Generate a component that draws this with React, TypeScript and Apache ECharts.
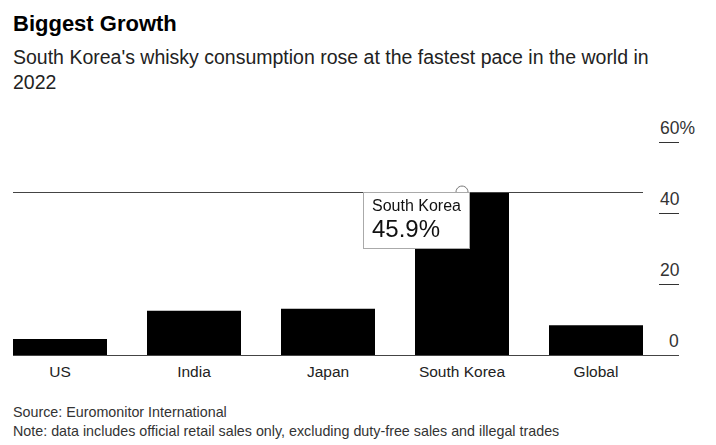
import React, { useEffect, useRef } from "react";
import * as echarts from "echarts";

const categories = ["US", "India", "Japan", "South Korea", "Global"];
const growth = [4.5, 12.5, 13.0, 45.9, 8.4];
const yTicks = [0, 20, 40, 60];
const highlightIndex = 3;

const FONT = "'Liberation Sans', Arial, Helvetica, sans-serif";

export default function App() {
  const ref = useRef<HTMLDivElement>(null);

  useEffect(() => {
    if (!ref.current) return;
    document.body.style.margin = "0";
    const chart = echarts.init(ref.current, null, { renderer: "svg" });
    const hv = growth[highlightIndex];
    chart.setOption({
      animation: false,
      backgroundColor: "#fff",
      textStyle: { fontFamily: FONT },
      title: [
        {
          text: "Biggest Growth",
          left: 13,
          top: 12,
          padding: 0,
          textStyle: { fontFamily: FONT, fontSize: 22, fontWeight: "bold", color: "#000", lineHeight: 22 },
        },
        {
          text: "South Korea's whisky consumption rose at the fastest pace in the world in 2022",
          left: 13,
          top: 44,
          padding: 0,
          textStyle: {
            fontFamily: FONT,
            fontSize: 19.5,
            fontWeight: "normal",
            color: "#222",
            lineHeight: 25,
            width: 660,
            overflow: "break",
          },
        },
        {
          text: "Source: Euromonitor International\nNote: data includes official retail sales only, excluding duty-free sales and illegal trades",
          left: 13,
          top: 403,
          padding: 0,
          textStyle: { fontFamily: FONT, fontSize: 14.3, fontWeight: "normal", color: "#333", lineHeight: 18.5 },
        },
      ],
      grid: { left: 60, right: 120, top: 142, bottom: 90, containLabel: false },
      xAxis: {
        type: "category",
        data: categories,
        boundaryGap: false,
        axisLine: { show: false },
        axisTick: { show: false },
        axisLabel: { color: "#222", fontSize: 15.5, fontFamily: FONT, margin: 8 },
      },
      yAxis: {
        type: "value",
        position: "right",
        offset: 63,
        min: 0,
        max: 60,
        interval: 20,
        splitLine: { show: false },
        axisLine: { show: false },
        axisTick: { show: true, inside: false, length: 20, lineStyle: { color: "#333", width: 1 } },
        axisLabel: {
          inside: false,
          margin: 1,
          align: "left",
          verticalAlign: "bottom",
          padding: [0, 0, 5, 0],
          color: "#333",
          fontSize: 17.5,
          fontFamily: FONT,
          formatter: (v: number) =>
            v === yTicks[yTicks.length - 1] ? v + "%" : v === yTicks[0] ? "{z|" + v + "}" : String(v),
          rich: { z: { padding: [0, 0, 0, 9], fontSize: 17.5, color: "#333", fontFamily: FONT } },
        },
      },
      tooltip: {
        show: true,
        trigger: "item",
        triggerOn: "none",
        alwaysShowContent: true,
        backgroundColor: "#fff",
        borderColor: "#aaa",
        borderWidth: 1,
        borderRadius: 0,
        padding: [4, 8, 6, 8],
        extraCssText: "box-shadow:none;",
        transitionDuration: 0,
        position: (point: number[], params: any, dom: any, rect: any, size: any) => {
          const w = size.contentSize[0];
          if (rect) return [rect.x + rect.width / 2 - w + 8, rect.y];
          return [point[0] - w + 8, point[1]];
        },
        formatter: (p: any) =>
          `<div style="font-family:${FONT.replace(/'/g, "")};color:#111">` +
          `<div style="font-size:16px;line-height:18px">${p.name}</div>` +
          `<div style="font-size:24px;line-height:27px">${p.value}%</div></div>`,
      },
      series: [
        {
          type: "bar",
          data: growth,
          barWidth: 94,
          clip: false,
          itemStyle: { color: "#000" },
          emphasis: { disabled: true },
          markLine: {
            silent: true,
            symbol: "none",
            label: { show: false },
            data: [
              [
                { x: 13, yAxis: 0 },
                { x: 679, yAxis: 0 },
              ],
              [
                { x: 13, yAxis: hv },
                { x: 643, yAxis: hv },
              ],
            ],
            lineStyle: { color: "#444", width: 1, type: "solid" },
          },
          markPoint: {
            silent: true,
            symbol: "circle",
            symbolSize: 12,
            label: { show: false },
            itemStyle: { color: "rgba(0,0,0,0)", borderColor: "#777", borderWidth: 1 },
            data: [{ coord: [highlightIndex, hv] }],
          },
        },
      ],
    });
    chart.dispatchAction({ type: "showTip", seriesIndex: 0, dataIndex: highlightIndex });
    return () => chart.dispose();
  }, []);

  return <div ref={ref} style={{ width: 716, height: 445, background: "#fff" }} />;
}
